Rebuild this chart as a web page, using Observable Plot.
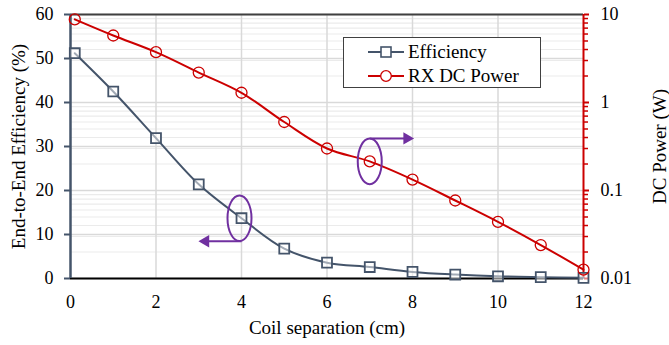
<!DOCTYPE html>
<html>
<head>
<meta charset="utf-8">
<script src="https://cdn.jsdelivr.net/npm/d3@7"></script>
<script src="https://cdn.jsdelivr.net/npm/@observablehq/plot@0.6"></script>
<style>
  html, body { margin: 0; padding: 0; background: #fff; }
  #wrap { position: relative; width: 669px; height: 345px; font-family: "Liberation Serif", "Times New Roman", serif; }
  #legend { position: absolute; left: 343px; top: 37px; width: 196px; height: 49px; border: 1.5px solid #404040; background: #fff; }
  .row { position: absolute; left: 0; height: 22px; display: flex; align-items: center; font-size: 19px; color: #000; white-space: nowrap; }
  .row svg { margin-left: 24px; margin-right: 4px; }
</style>
</head>
<body>
<div id="wrap">
  <div id="chart"></div>
  <div id="legend"></div>
</div>
<script>
// ---- data ----
const separation = [0.1, 1, 2, 3, 4, 5, 6, 7, 8, 9, 10, 11, 12];
const efficiency = [51.2, 42.5, 31.9, 21.4, 13.7, 6.8, 3.6, 2.6, 1.5, 0.9, 0.5, 0.3, 0.15];
const dcPower = [8.8, 5.77, 3.73, 2.19, 1.29, 0.60, 0.30, 0.214, 0.133, 0.077, 0.044, 0.024, 0.0126];
const xTicks = [0, 2, 4, 6, 8, 10, 12];
const effTicks = [0, 10, 20, 30, 40, 50, 60];
const powerTicks = [0.01, 0.1, 1, 10];
const powerTickLabels = ["0.01", "0.1", "1", "10"];
const seriesNames = ["Efficiency", "RX DC Power"];
// annotation anchors: point index, arrow target x
const annEffIndex = 4, annEffArrowTo = 3.05;
const annPowIndex = 7, annPowArrowTo = 7.98;

// ---- colours ----
const effColor = "#44546A";
const powColor = "#CC0000";
const annColor = "#7030A0";
const serif = "Liberation Serif";

// map power (log, 0.01..10) onto the left linear scale (0..60)
const toLeft = p => (Math.log10(p) + 2) * 20;

const effData = separation.map((x, i) => ({x, y: efficiency[i]}));
const powData = separation.map((x, i) => ({x, y: toLeft(dcPower[i]), p: dcPower[i]}));

const minorPower = [];
for (const dec of [0.01, 0.1, 1]) for (let k = 2; k <= 9; k++) minorPower.push(+(dec * k).toPrecision(3));
const minorPos = minorPower.map(toLeft);
const majorPos = powerTicks.map(toLeft);
const powLabelMap = new Map(majorPos.map((v, i) => [v, powerTickLabels[i]]));

const ellipse = {
  draw(ctx, size) {
    const r = Math.sqrt(size / Math.PI);
    const rx = r, ry = r * 1.9, k = 0.5523;
    ctx.moveTo(0, -ry);
    ctx.bezierCurveTo(rx * k, -ry, rx, -ry * k, rx, 0);
    ctx.bezierCurveTo(rx, ry * k, rx * k, ry, 0, ry);
    ctx.bezierCurveTo(-rx * k, ry, -rx, ry * k, -rx, 0);
    ctx.bezierCurveTo(-rx, -ry * k, -rx * k, -ry, 0, -ry);
    ctx.closePath();
  }
};

const effAnn = [effData[annEffIndex]];
const powAnn = [powData[annPowIndex]];

const chart = Plot.plot({
  width: 669,
  height: 345,
  marginLeft: 70,
  marginRight: 86,
  marginTop: 14,
  marginBottom: 67,
  style: {fontSize: "18px", background: "#fff", color: "#000", fontFamily: serif},
  x: {domain: [0, 12]},
  y: {domain: [0, 60]},
  marks: [
    // minor (log) gridlines
    Plot.gridY(minorPos, {stroke: "#ebebeb", strokeOpacity: 1, strokeWidth: 1.2}),
    Plot.gridY(majorPos.concat([10, 30, 50]), {stroke: "#d9d9d9", strokeOpacity: 1, strokeWidth: 1.5}),
    Plot.gridX([2, 4, 6, 8, 10], {stroke: "#d9d9d9", strokeOpacity: 1, strokeWidth: 1.5}),
    // axes
    Plot.axisX(xTicks, {anchor: "bottom", tickSize: 0, tickPadding: 17, label: null, fontSize: 18, fontFamily: serif}),
    Plot.axisY(effTicks, {anchor: "left", tickSize: 6, tickPadding: 11, label: null, stroke: effColor, strokeWidth: 2, fill: "#000", fontSize: 18, fontFamily: serif}),
    Plot.axisY(minorPos, {anchor: "right", tickSize: 4, tickFormat: () => "", label: null, stroke: powColor, strokeWidth: 1.5}),
    Plot.axisY(majorPos, {anchor: "right", tickSize: 5, tickPadding: 12, tickFormat: d => powLabelMap.get(d), label: null, stroke: powColor, strokeWidth: 2, fill: "#000", fontSize: 18, fontFamily: serif}),
    Plot.ruleY([60], {stroke: "#404040", strokeWidth: 2}),
    Plot.ruleY([0], {stroke: "#000", strokeWidth: 2}),
    Plot.ruleX([0], {stroke: effColor, strokeWidth: 2.5}),
    Plot.ruleX([12], {stroke: powColor, strokeWidth: 2}),
    // titles
    Plot.text(["Coil separation (cm)"], {frameAnchor: "bottom", dy: 49, lineAnchor: "middle", textAnchor: "middle", fontSize: 19, fontFamily: serif}),
    Plot.text(["End-to-End Efficiency (%)"], {frameAnchor: "left", dx: -52, rotate: -90, textAnchor: "middle", lineAnchor: "middle", fontSize: 19, fontFamily: serif}),
    Plot.text(["DC Power (W)"], {frameAnchor: "right", dx: 76.5, rotate: -90, textAnchor: "middle", lineAnchor: "middle", fontSize: 19, fontFamily: serif}),
    // series
    Plot.line(effData, {x: "x", y: "y", stroke: effColor, strokeWidth: 2, curve: "catmull-rom"}),
    Plot.line(powData, {x: "x", y: "y", stroke: powColor, strokeWidth: 2, curve: "catmull-rom"}),
    Plot.dot(effData, {x: "x", y: "y", symbol: "square", r: 5.6, stroke: effColor, strokeWidth: 1.8, fill: "#fff", fillOpacity: 0.5}),
    Plot.dot(powData, {x: "x", y: "y", symbol: "circle", r: 5.5, stroke: powColor, strokeWidth: 1.3, fill: "none"}),
    // annotations
    Plot.dot(effAnn, {x: "x", y: "y", symbol: ellipse, r: 12, stroke: annColor, strokeWidth: 2, fill: "none", dx: -2}),
    Plot.link(effAnn, {x1: "x", x2: () => annEffArrowTo + 0.12, y1: "y", y2: "y", dy: 23, stroke: annColor, strokeWidth: 2}),
    Plot.dot(effAnn, {x: () => annEffArrowTo + 0.11, y: "y", dy: 23, symbol: "triangle", r: 4.6, rotate: -90, fill: annColor, stroke: "none"}),
    Plot.dot(powAnn, {x: "x", y: "y", symbol: ellipse, r: 12, stroke: annColor, strokeWidth: 2, fill: "none"}),
    Plot.link(powAnn, {x1: "x", x2: () => annPowArrowTo - 0.12, y1: "y", y2: "y", dy: -23, stroke: annColor, strokeWidth: 2}),
    Plot.dot(powAnn, {x: () => annPowArrowTo - 0.11, y: "y", dy: -23, symbol: "triangle", r: 4.6, rotate: 90, fill: annColor, stroke: "none"})
  ]
});
chart.setAttribute("font-family", serif);
d3.select(chart).selectAll("text").attr("font-family", serif);
document.getElementById("chart").appendChild(chart);

// legend
const legend = document.getElementById("legend");
const swatches = [
  {name: seriesNames[0], color: effColor, marker: `<rect x="13" y="6" width="10" height="10" fill="#fff" stroke="${effColor}" stroke-width="1.6"/>`},
  {name: seriesNames[1], color: powColor, marker: `<circle cx="18" cy="11" r="5.3" fill="#fff" stroke="${powColor}" stroke-width="1.3"/>`}
];
swatches.forEach((s, i) => {
  const row = document.createElement("div");
  row.className = "row";
  row.style.top = (i === 0 ? 3 : 27) + "px";
  row.innerHTML = `<svg width="36" height="22"><line x1="0" x2="36" y1="11" y2="11" stroke="${s.color}" stroke-width="2"/>${s.marker}</svg><span>${s.name}</span>`;
  legend.appendChild(row);
});
</script>
</body>
</html>
